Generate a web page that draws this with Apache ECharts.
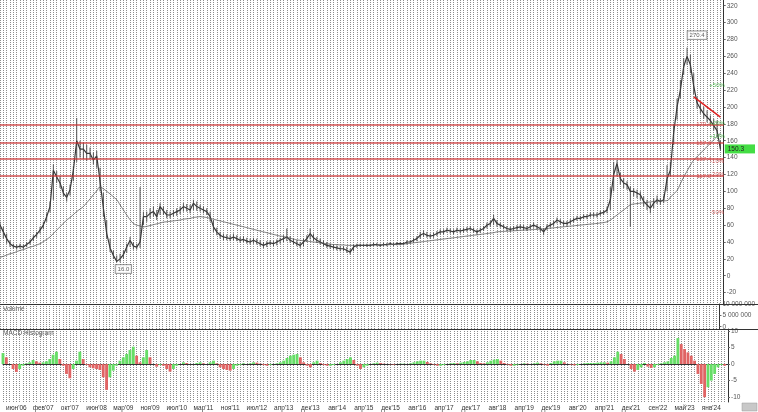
<!DOCTYPE html>
<html><head><meta charset="utf-8">
<script src="https://cdn.jsdelivr.net/npm/echarts@6/dist/echarts.min.js"></script>
<style>html,body{margin:0;padding:0;background:#fff}#c{width:758px;height:412px}</style>
</head><body><div id="c"></div>
<script>
const tickLabels = ["июн'06","фев'07","окт'07","июн'08","мар'09","ноя'09","июл'10","мар'11","ноя'11","июл'12","апр'13","дек'13","авг'14","апр'15","дек'15","авг'16","апр'17","дек'17","авг'18","апр'19","дек'19","авг'20","апр'21","дек'21","сен'22","май'23","янв'24"];
const closeP = [60,52,44,38,35,34,35,34,37,40,
45,49,54,60,70,82,125,117,110,98,
93,102,125,160,150,150,145,145,137,142,
112,80,50,33,24,17,20,25,34,42,
35,34,40,70,70,74,76,70,82,77,
72,72,74,76,78,82,80,78,86,82,
80,78,76,70,58,52,48,46,45,44,
46,44,42,43,41,40,42,40,38,36,
38,39,38,40,42,44,46,42,40,38,
36,40,44,50,45,42,40,38,36,35,
34,33,32,32,30,28,34,36,36,36,
36,36,37,37,36,37,37,38,37,38,
38,38,40,40,42,44,48,50,48,47,
48,50,52,52,54,53,52,54,53,54,
55,56,54,52,54,56,60,62,68,62,
60,58,56,55,56,57,58,57,56,58,
60,58,56,52,58,60,62,66,64,62,
62,64,66,68,68,70,70,72,72,72,
74,75,78,90,120,133,115,110,108,100,
100,98,96,88,84,80,86,90,88,90,
115,125,170,200,220,248,260,250,225,205,
198,192,188,184,178,172,150.3];
const lowP = [52,44,38,34,32,31,32,32,34,37,
41,45,50,55,64,75,90,110,104,94,
88,95,112,135,140,138,136,138,132,128,
100,70,44,28,20,16,16,20,27,34,
31,31,33,60,64,68,70,66,72,72,
68,68,70,71,73,76,76,74,78,77,
76,74,72,64,52,48,44,42,42,41,
42,41,39,40,38,37,38,37,35,33,
34,36,35,36,38,40,41,39,37,35,
33,35,40,43,41,39,37,35,33,32,
31,30,29,29,27,25,29,33,34,34,
34,34,35,35,34,35,35,36,35,36,
36,36,37,38,39,41,44,46,45,44,
45,47,49,49,51,50,49,51,50,51,
52,53,51,49,51,53,56,58,60,58,
57,55,53,52,53,54,55,54,53,55,
57,55,52,48,54,57,59,62,61,59,
59,61,63,65,65,67,67,69,69,69,
71,72,74,78,100,118,108,104,102,58,
94,92,90,82,78,74,80,85,84,86,
100,118,155,185,210,238,250,240,215,198,
192,186,182,178,172,165,148];
const highP = [64,58,50,42,38,37,38,37,40,43,
48,52,58,64,74,88,132,124,118,106,
98,108,130,187,160,158,155,152,146,148,
128,98,66,44,30,24,26,30,38,46,
40,38,105,76,76,80,82,78,86,82,
78,76,78,80,82,86,85,84,90,88,
84,82,80,76,66,57,52,50,49,48,
50,48,46,47,45,44,45,44,42,40,
41,42,41,43,45,48,56,47,44,42,
40,44,48,56,50,46,44,42,40,38,
37,36,35,35,34,32,37,38,38,38,
38,38,39,39,38,39,39,40,39,40,
40,40,42,42,45,47,52,54,52,50,
51,53,55,55,57,56,55,57,56,57,
58,59,57,55,57,59,63,65,72,66,
63,61,59,58,59,60,61,60,59,61,
63,61,59,56,61,63,65,69,67,65,
65,67,69,71,71,73,73,75,75,75,
77,78,82,105,135,137,122,116,112,106,
104,102,100,94,90,86,92,95,92,95,
131,135,180,210,232,258,270.4,262,240,212,
205,200,196,190,186,184,160];
const maP = [22,23,24.5,26,27,28.5,30,31,32.5,34,
35,36.5,38,40.5,43,46,50,54,58,62,
66,69,72.5,76,79,82,86.5,91,96,100.5,
105,103,100,97,93.5,90,84,78,72,66.5,
62,60,59,58,58.5,59.5,60.5,61.5,62.5,63.5,
64,64.5,65,65.5,66,67,67.5,68,69,69.5,
70,69.5,69,68,67,66,65,64,63,62,
61,60,59,58,57,56,55,54,53,52,
51,50,49,48,47,46.5,45.5,44.5,43.5,42.5,
42,41.5,41,40.5,40,39.5,39,38.5,38,37.5,
37,37,36.5,36.5,36,36,36,36,36,36,
36,36,36,36.5,36.5,36.5,36.5,37,37,37,
37,37.5,38,38.5,39,39.5,40,40.5,41,41.5,
42,42.5,43,43.5,44,44.5,45,45.5,46,46.5,
47,47.5,48,48.5,49,49.5,50,50.5,51,52,
52.3,52.5,52.8,53,53.3,53.5,53.8,54,54.3,54.5,
54.8,55,55.3,55.6,56,56.4,56.8,57.2,57.6,58,
58.4,58.8,59.2,59.6,60,60.4,60.8,61.2,61.6,62,
62.5,63,64,66,69,72,75,78,81,84,
85,85.5,86,86.5,87,87.5,88,88.3,88.6,88.8,
89,93,97,101,109,117,124,131,137,141,
145,149,153,157,161,165,169];
const macdP = [3.3,2,0,-1.5,-2.4,-1.5,-0.5,0.2,0.5,1.2,
0.8,0.4,0.5,0.8,1.5,2.8,3.7,1.5,-0.5,-3,
-4.3,-1.5,1,3.7,1.5,-0.3,-1,-1.3,-1.5,-1.8,
-4,-7.8,-4,-2,-0.5,1,2,3,4.2,5.2,
2.5,0.5,2,4.2,2,0,-0.8,-0.3,-0.5,-1.5,
-2.3,-1.5,-0.5,0,0.5,0.3,0,0,0.3,0.5,
0.2,0,0.5,1,0.2,-1,-1.5,-1.8,-2,-1.5,
-0.5,-0.3,0.2,0,0.2,0.5,0.4,0.1,-0.3,-0.5,
-0.3,0,0.2,0.5,1,1.8,2.5,2.8,3,2,
0.5,-0.5,-1,0.5,1,0.3,-0.3,-0.5,-0.5,-0.3,
0,0.5,1,1.5,2,1.2,-0.5,-1.5,-1,-0.5,
0,0.2,0.4,0.3,0.1,0,-0.1,-0.2,0,0.1,
0.1,0,0.2,0.5,0.8,1,1,0.6,0.2,-0.2,
-0.5,-0.5,-0.3,0,0.2,0.3,0.2,0.4,0.6,0.8,
1.2,1.2,0.8,0.3,0.2,0.5,1,1.3,1.5,1,
0.3,-0.2,-0.5,-0.5,-0.2,0,0.2,0.1,0,0.2,
0.4,0.2,-0.2,-0.5,0.3,0.8,1,1,0.5,0,
-0.2,-0.4,-0.3,0,0.2,0.3,0.3,0.3,0.4,0.5,
0.5,0.4,0.8,2,3.7,3,1.5,0,-1.5,-2.3,
-1.8,-1,0.3,-0.8,-1.2,-1,-0.3,0.2,0.5,0.8,
1.8,2.5,7.8,6,4.5,3.5,2.5,1,-3,-6,
-10,-7,-5,-3,-1,-0.3,-0.5];
const priceTicks = [-20,0,20,40,60,80,100,120,140,160,180,200,220,240,260,280,300,320];
const volumeTicks = [0,5000000,10000000];
const macdTicks = [-10,-5,0,5,10];
const levels = [179.4,157.3,138.3,118.2];
const levelLabels = ['179.4','157.6','137.4','117.0'];
const pctValues = [225.5,180.4,165.3,135.3,120.2,75.2];
const pctLabels = ['+50%','+20%','+10%','-10%','-20%','-50%'];
const lastPrice = 150.3;
const trendLine = [[208,212],[216,188]];
const peakNote = {idx:209, value:285, text:'270.4'};
const lowNote = {idx:37, value:8, text:'16.0'};

const N = 218;
const categories = Array.from({length:N}, (_, i) => String(i));
const FONT = 'Liberation Sans';
const gridLine = {show:true, interval:0, lineStyle:{color:'#8c8c8c', type:[1,1], width:1}};

function xAx(gi, showLabels){
  return {type:'category', gridIndex:gi, data:categories, boundaryGap:false,
    axisLine:{show:showLabels, lineStyle:{color:'#333'}}, axisTick:{show:false},
    splitLine:gridLine,
    axisLabel:{show:showLabels, interval:0, fontSize:6.5, fontFamily:FONT, color:'#333', margin:3,
      formatter:(v, i) => (i >= 4 && (i - 4) % 8 === 0 && tickLabels[(i - 4) / 8]) ? tickLabels[(i - 4) / 8] : ''}};
}
function yAx(gi, min, max, ticks, fmt){
  return {type:'value', gridIndex:gi, position:'right', min, max, scale:true,
    axisLine:{show:true, lineStyle:{color:'#333'}},
    axisTick:{show:true, customValues:ticks, length:2, lineStyle:{color:'#666'}},
    splitLine:{show:false},
    axisLabel:{customValues:ticks, fontSize:6.5, fontFamily:FONT, color:'#555', margin:3, formatter:fmt}};
}
const chart = echarts.init(document.getElementById('c'), null, {renderer:'canvas'});
const textPts = levels.map((v, k) => ({value:[211, v], label:{formatter:levelLabels[k], color:'#d04848', offset:[0,4]}}))
  .concat(pctValues.map((v, k) => ({value:[215, v], label:{formatter:pctLabels[k], color: pctLabels[k][0] === '+' ? '#3cb33c' : '#d04848'}})));
chart.setOption({
  animation:false,
  backgroundColor:'#fff',
  grid:[{left:0, right:30, top:0, height:304},{left:0, right:30, top:304, height:25},{left:0, right:30, top:329, height:73}],
  xAxis:[xAx(0,false), xAx(1,false), xAx(2,true)],
  yAxis:[
    yAx(0, -33.5, 326.8, priceTicks, v => String(v)),
    yAx(1, -1000000, 10000000, volumeTicks, v => String(v).replace(/\B(?=(\d{3})+(?!\d))/g, ' ')),
    yAx(2, -11.45, 10.54, macdTicks, v => String(v)),
    {type:'value', gridIndex:0, position:'right', min:-33.5, max:326.8, axisLine:{show:false}, axisTick:{show:false}, splitLine:{show:false},
      axisLabel:{customValues:[lastPrice], formatter:() => String(lastPrice), fontSize:6.5, fontFamily:FONT, color:'#222', backgroundColor:'#44dd44', padding:[1,11,1,3], margin:1}}
  ],
  graphic:[
    {type:'line', shape:{x1:0, y1:304.5, x2:758, y2:304.5}, style:{stroke:'#333', lineWidth:1}, z:50},
    {type:'line', shape:{x1:0, y1:329.5, x2:758, y2:329.5}, style:{stroke:'#333', lineWidth:1}, z:50},
    {type:'text', left:3, top:306, style:{text:'Volume', font:'6.5px ' + FONT, fill:'#555'}},
    {type:'text', left:3, top:330, style:{text:'MACD Histogram', font:'6.5px ' + FONT, fill:'#555'}},
    {type:'rect', shape:{x:742, y:403, width:15, height:8}, style:{fill:'#c8c8c8', stroke:'#999', lineWidth:0.5}}
  ],
  series:[
    {type:'custom', xAxisIndex:0, yAxisIndex:0, z:3,
      data: closeP.map((c, i) => [i, lowP[i], highP[i]]),
      renderItem:(params, api) => {
        const a = api.coord([api.value(0), api.value(1)]);
        const b = api.coord([api.value(0), api.value(2)]);
        return {type:'line', shape:{x1:a[0], y1:a[1], x2:b[0], y2:b[1]}, style:{stroke:'#555', lineWidth:1}};
      }},
    {type:'line', xAxisIndex:0, yAxisIndex:0, data:closeP, symbol:'none', z:4,
      lineStyle:{color:'#3a3a3a', width:1.2},
      markLine:{silent:true, symbol:'none', label:{show:false},
        data: levels.map(v => ({yAxis:v, lineStyle:{color:'#cc3333', width:1.5, type:'solid', opacity:0.85}}))
          .concat([[{coord:trendLine[0], lineStyle:{color:'#dd2222', width:1.5, type:'solid'}}, {coord:trendLine[1]}]])}},
    {type:'line', xAxisIndex:0, yAxisIndex:0, data:maP, symbol:'none', z:4, smooth:true,
      lineStyle:{color:'#555', width:0.8}},
    {type:'scatter', xAxisIndex:0, yAxisIndex:0, symbol:'circle', symbolSize:1, itemStyle:{color:'rgba(0,0,0,0)'}, z:6,
      labelLayout:{hideOverlap:false},
      label:{show:true, position:'inside', fontSize:6, fontFamily:FONT},
      data:textPts},
    {type:'scatter', xAxisIndex:0, yAxisIndex:0, symbol:'circle', symbolSize:1, itemStyle:{color:'rgba(0,0,0,0)'}, z:6,
      label:{show:true, position:'inside', fontSize:6, fontFamily:FONT, color:'#333', backgroundColor:'#fff', borderColor:'#666', borderWidth:0.8, padding:[1,2]},
      data:[{value:[peakNote.idx, peakNote.value], label:{formatter:peakNote.text}}, {value:[lowNote.idx, lowNote.value], label:{formatter:lowNote.text}}]},
    {type:'bar', xAxisIndex:2, yAxisIndex:2, data:macdP, barCategoryGap:'15%', z:3,
      itemStyle:{color: p => (p.dataIndex > 0 && macdP[p.dataIndex] < macdP[p.dataIndex - 1]) ? '#e06464' : '#66dd66'}}
  ]
});
</script></body></html>
